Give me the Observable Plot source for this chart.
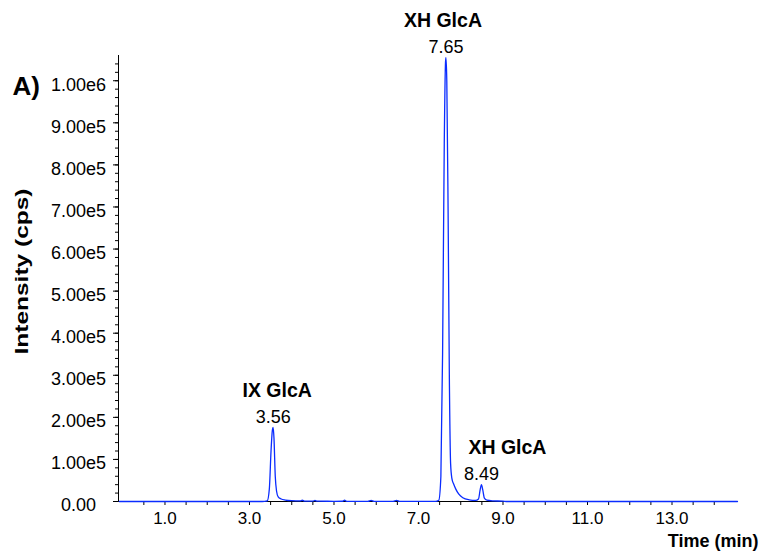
<!DOCTYPE html>
<html>
<head>
<meta charset="utf-8">
<script src="https://cdn.jsdelivr.net/npm/d3@7"></script>
<script src="https://cdn.jsdelivr.net/npm/@observablehq/plot@0.6"></script>
<style>
  html, body { margin: 0; padding: 0; background: #fff; }
  #chart { width: 764px; height: 556px; }
</style>
</head>
<body>
<div id="chart"></div>
<script>
// Retention time (min)
const time = [
  -0.08, 0.5, 1.0, 1.5, 2.0, 2.5, 3.0, 3.3, 3.42, 3.47, 3.51, 3.54, 3.56, 3.58, 3.61, 3.64, 3.68, 3.75, 3.85,
  4.0, 4.2, 4.25, 4.3, 4.5, 4.55, 4.6, 5.0, 5.2, 5.25, 5.3, 5.8, 5.88, 5.95, 6.4, 6.48, 6.55, 7.0, 7.4,
  7.48, 7.53, 7.57, 7.61, 7.64, 7.65, 7.67, 7.70, 7.73, 7.76, 7.79, 7.83, 7.88, 7.95, 8.05, 8.2, 8.35,
  8.42, 8.46, 8.49, 8.52, 8.56, 8.62, 8.75, 9.0, 9.1, 10.0, 11.0, 12.0, 13.0, 14.0, 14.55
];
// Intensity (cps)
const intensity = [
  0, 0, 0, 0, 0, 0, 0, 0, 1500, 30000, 120000, 168000, 176000, 150000, 60000, 25000, 11000, 6000, 3500,
  2000, 1500, 3000, 1000, 1000, 2500, 800, 500, 600, 3000, 500, 300, 2500, 300, 200, 2500, 200, 200, 300,
  3000, 60000, 350000, 850000, 1045000, 1055000, 1000000, 700000, 300000, 90000, 55000, 42000, 30000, 18000, 9000, 4000, 2500,
  6000, 28000, 40000, 28000, 8000, 3000, 1500, 800, 0, 0, 0, 0, 0, 0, 0
];

// Peak annotations
const peakTimes = [3.56, 7.65, 8.49];
const peakHeights = [176000, 1055000, 40000];
const peakNames = ["IX GlcA", "XH GlcA", "XH GlcA"];
const peakLabels = ["3.56", "7.65", "8.49"];

// Axis ticks and labels
const xTickValues = [1, 3, 5, 7, 9, 11, 13];
const xTickLabels = ["1.0", "3.0", "5.0", "7.0", "9.0", "11.0", "13.0"];
const xMinorTicks = [0.5, 1, 1.5, 2, 2.5, 3, 3.5, 4, 4.5, 5, 5.5, 6, 6.5, 7, 7.5, 8, 8.5, 9, 9.5, 10, 10.5, 11, 11.5, 12, 12.5, 13, 13.5, 14];
const yTickValues = [0, 1e5, 2e5, 3e5, 4e5, 5e5, 6e5, 7e5, 8e5, 9e5, 1e6];
const yTickLabels = ["0.00", "1.00e5", "2.00e5", "3.00e5", "4.00e5", "5.00e5", "6.00e5", "7.00e5", "8.00e5", "9.00e5", "1.00e6"];
const yMinorTicks = d3.range(0, 1.06e6, 2e4);

const trace = time.map((t, i) => ({t, v: intensity[i]}));
const peaks = peakTimes.map((t, i) => ({t, v: peakHeights[i], name: peakNames[i], label: peakLabels[i]}));
const xTicks = xTickValues.map((v, i) => ({v, label: xTickLabels[i]}));
const yTicks = yTickValues.map((v, i) => ({v, label: yTickLabels[i]}));

const font = "'Liberation Sans', Arial, Helvetica, sans-serif";
const blue = "#0a2cff";
const nameOffsets = [4, -3, 26];

const chart = Plot.plot({
  width: 764,
  height: 556,
  marginLeft: 118,
  marginRight: 27,
  marginTop: 55,
  marginBottom: 55,
  x: {domain: [-0.1, 14.55], axis: null},
  y: {domain: [0, 1.06e6], axis: null},
  style: {fontFamily: font, background: "#fff", color: "#000"},
  marks: [
    Plot.axisX({ticks: xMinorTicks, tickSize: 4, text: null, label: null, anchor: "bottom"}),
    Plot.axisY({ticks: yMinorTicks, tickSize: 3, text: null, label: null, anchor: "left"}),
    Plot.axisY({ticks: yTickValues, tickSize: 5, text: null, label: null, anchor: "left"}),
    Plot.ruleY([0], {stroke: "#000", strokeWidth: 1}),
    Plot.ruleX([-0.1], {stroke: "#000", strokeWidth: 1}),
    Plot.text(xTicks, {x: "v", text: "label", frameAnchor: "bottom", lineAnchor: "middle", dy: 17, fontSize: 17, fill: "#000"}),
    Plot.text(yTicks, {y: "v", text: "label", frameAnchor: "left", lineAnchor: "middle", dx: -40, dy: 4, textAnchor: "middle", fontSize: 18, fill: "#000"}),
    Plot.line(trace, {x: "t", y: "v", stroke: blue, strokeWidth: 1.3, curve: "monotone-x"}),
    Plot.text(peaks, {x: "t", y: "v", text: "label", lineAnchor: "middle", dy: -10, fontSize: 18, fill: "#000"}),
    ...peaks.map((p, i) => Plot.text([p], {x: "t", y: "v", text: "name", lineAnchor: "middle", dx: nameOffsets[i], dy: -37, fontSize: 19.5, fontWeight: "bold", fill: "#000"})),
    Plot.text(["Intensity (cps)"], {text: d => d, frameAnchor: "left", textAnchor: "middle", lineAnchor: "middle", dx: -96, dy: -7, rotate: -90, fontSize: 18, fontWeight: "bold", fill: "#000"}),
    Plot.text(["Time (min)"], {text: d => d, frameAnchor: "bottom-right", textAnchor: "end", lineAnchor: "middle", dx: 21, dy: 40, fontSize: 18, fontWeight: "bold", fill: "#000"}),
    Plot.text(["A)"], {text: d => d, frameAnchor: "top-left", textAnchor: "start", lineAnchor: "middle", dx: -106, dy: 31, fontSize: 26, fontWeight: "bold", fill: "#000"})
  ]
});
document.getElementById("chart").appendChild(chart);

// Widen the rotated axis title to the reference's stretched proportions
d3.select(chart).selectAll("text").filter(function () { return this.textContent === "Intensity (cps)"; })
  .attr("textLength", 166).attr("lengthAdjust", "spacingAndGlyphs");
</script>
</body>
</html>
